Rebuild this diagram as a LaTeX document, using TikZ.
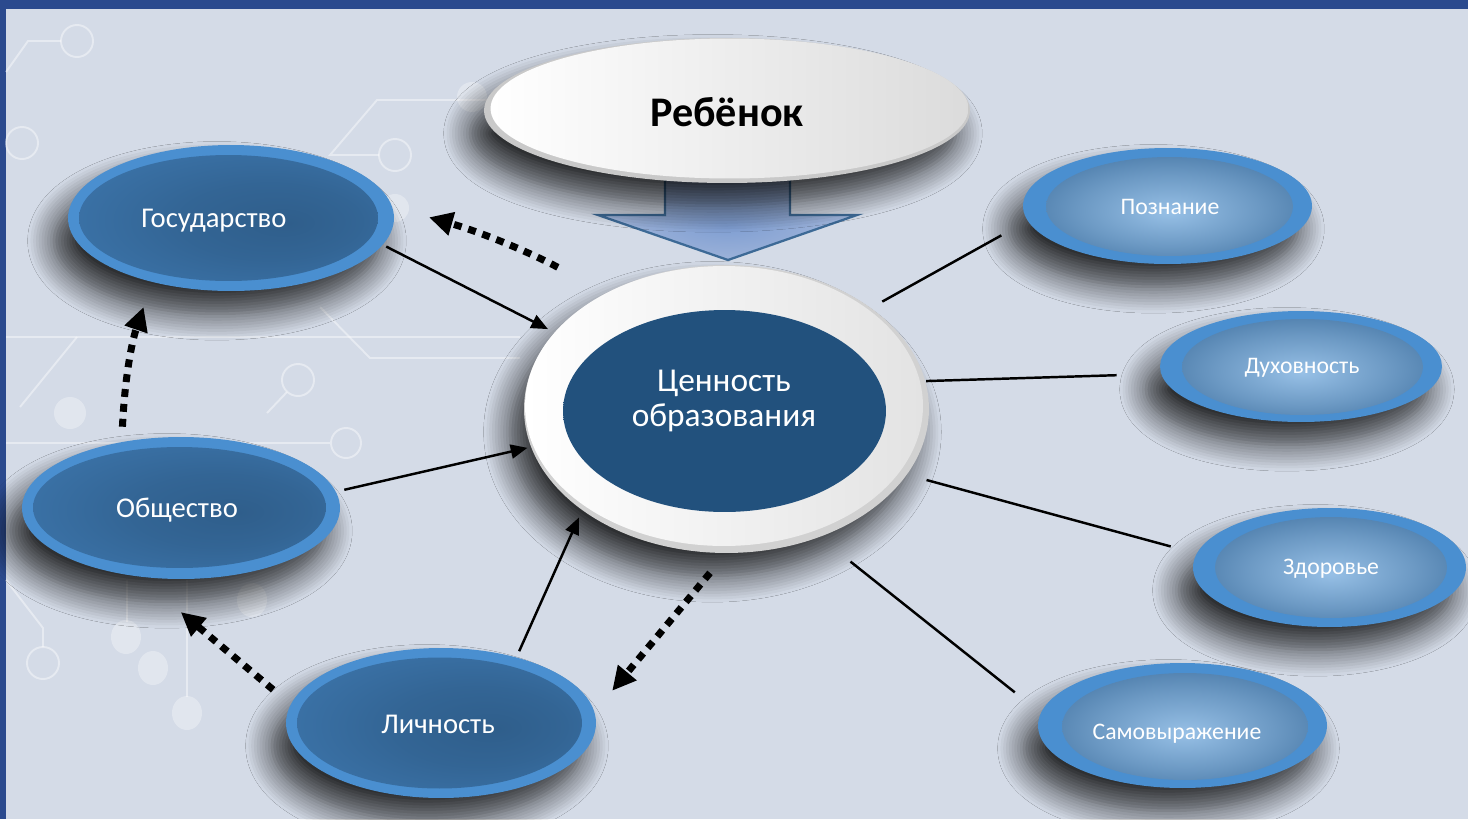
\documentclass[tikz,border=0pt]{standalone}
\usepackage{fontspec}
\setmainfont{Carlito}
\usetikzlibrary{shapes.geometric,arrows.meta,shadows.blur}
\definecolor{bgc}{HTML}{D4DBE7}
\definecolor{barc}{HTML}{2B4A8E}
\definecolor{rimblue}{HTML}{4A8FD0}
\definecolor{lin}{HTML}{2F5E8B}
\definecolor{lout}{HTML}{4A8CCB}
\definecolor{rin}{HTML}{97C0E6}
\definecolor{rout}{HTML}{386A9A}
\definecolor{cin}{HTML}{22517D}
\definecolor{cout}{HTML}{1A3E64}
\definecolor{arrc}{HTML}{3D6A96}
\definecolor{arrin}{HTML}{7F9ED2}
\definecolor{arrout}{HTML}{C3CDE2}
\pgfdeclareradialshading{leftrad}{\pgfpoint{10bp}{-2bp}}{color(0bp)=(lin); color(15bp)=(lin!85!lout); color(35bp)=(lin!50!lout); color(50bp)=(lout)}
\pgfdeclareradialshading{rightrad}{\pgfpoint{0bp}{-3bp}}{color(0bp)=(rin); color(18bp)=(rin!55!rout); color(38bp)=(rout); color(50bp)=(rout!85!rimblue)}
\pgfdeclareradialshading{cenrad}{\pgfpoint{-8bp}{4bp}}{color(0bp)=(cin); color(30bp)=(cin); color(50bp)=(cout)}
\pgfdeclareradialshading{arrrad}{\pgfpoint{0bp}{-6bp}}{color(0bp)=(arrin); color(30bp)=(arrin!40!arrout); color(50bp)=(arrout)}
\tikzset{
  shadowed/.style={blur shadow={shadow xshift=-8pt, shadow yshift=-13pt, shadow blur radius=15pt, shadow blur steps=10, shadow opacity=80}},
  ell/.style={ellipse, inner sep=0pt, outer sep=0pt},
  leftouter/.style={ell, fill=rimblue, shadowed},
  leftinner/.style={ell, shade, shading=leftrad},
  rightouter/.style={ell, fill=rimblue, shadowed},
  rightinner/.style={ell, shade, shading=rightrad},
  lbl/.style={text=white, font=\fontsize{16.3}{19}\selectfont, inner sep=0pt},
  slbl/.style={text=white, font=\fontsize{13.5}{16}\selectfont, inner sep=0pt},
  solidarr/.style={line width=1.4pt, black, -{Triangle[length=9.5pt,width=8pt]}},
  dotarr/.style={line width=4pt, black, dash pattern=on 4.5pt off 4pt, -{Triangle[length=13.5pt,width=13pt]}},
  plainline/.style={line width=1.4pt, black},
  deco/.style={draw=white, draw opacity=0.42, line width=1.1pt},
  decofill/.style={fill=white, fill opacity=0.32},
}
\begin{document}
\begin{tikzpicture}[x=0.02cm, y=-0.02cm]
\useasboundingbox (0,0) rectangle (1468,819);
% background
\fill[bgc] (0,0) rectangle (1468,819);
\fill[barc] (0,0) rectangle (1468,9);
\fill[barc] (0,0) rectangle (6,819);
% faint circuit decoration
\draw[deco] (6,72) -- (28,41) -- (61,41);
\draw[deco] (77,41) circle[radius=16];
\draw[deco] (22,143) circle[radius=16];
\draw[deco] (540,100) -- (377,100) -- (330,155) -- (379,155);
\draw[deco] (395,155) circle[radius=16];
\fill[decofill] (395,208) circle[radius=14];
\fill[decofill] (472,97) circle[radius=15];
\draw[deco] (6,337) -- (520,337);
\draw[deco] (320,307) -- (370,358) -- (520,358);
\draw[deco] (20,407) -- (77,337);
\draw[deco] (267,413) -- (287,392);
\draw[deco] (298,380) circle[radius=16];
\fill[decofill] (70,413) circle[radius=16];
\draw[deco] (6,443) -- (330,443);
\draw[deco] (346,443) circle[radius=15];
\draw[deco] (6,580) -- (43,628) -- (43,647);
\draw[deco] (43,663) circle[radius=16];
\draw[deco] (127,580) -- (127,622);
\draw[deco] (187,580) -- (187,697);
\fill[decofill] (126,637) ellipse[x radius=15, y radius=17];
\fill[decofill] (153,668) ellipse[x radius=15, y radius=17];
\fill[decofill] (187,713) ellipse[x radius=15, y radius=17];
\fill[decofill] (252,600) ellipse[x radius=15, y radius=17];
% block arrow from the child
\fill[shading=arrrad] (665,170) -- (665,215) -- (598,215) -- (728,260) -- (857,215) -- (790,215) -- (790,170) -- cycle;
\draw[arrc, line width=1.3pt, line join=miter] (665,170) -- (665,215) -- (598,215) -- (728,260) -- (857,215) -- (790,215) -- (790,170);
% child
\node[ell, fill=black!21, shadowed, minimum width={486*0.56906pt}, minimum height={145*0.56906pt}] (reb) at (727,110.5) {};
\node[ell, shade, left color=white, right color=black!14, minimum width={478*0.56906pt}, minimum height={140*0.56906pt}] (rebw) at (729.5,108.5) {};
\node[font=\bfseries\fontsize{24}{28}\selectfont, text=black, inner sep=0pt] (rebt) at (727,112) {Ребёнок};
% centre
\node[ell, fill=black!18, shadowed, minimum width={405*0.56906pt}, minimum height={288*0.56906pt}] (cen) at (726.5,409) {};
\node[ell, shade, left color=white, right color=black!11, minimum width={398*0.56906pt}, minimum height={280*0.56906pt}] (cenw) at (724,406) {};
\node[ell, shade, shading=cenrad, minimum width={323*0.56906pt}, minimum height={202*0.56906pt}] (cenin) at (724.5,411) {};
\node[text=white, font=\fontsize{19}{19.5}\selectfont, align=center, inner sep=0pt] (cent) at (724,401) {Ценность\\образования};
% left bubbles
\node[leftouter, minimum width={326*0.56906pt}, minimum height={146*0.56906pt}] (gos) at (231,218) {};
\node[leftinner, minimum width={299*0.56906pt}, minimum height={126*0.56906pt}] (gosin) at (228.5,218) {};
\node[lbl] (gost) at (214,221) {Государство};
\node[leftouter, minimum width={318*0.56906pt}, minimum height={142*0.56906pt}] (obs) at (181,508) {};
\node[leftinner, minimum width={293*0.56906pt}, minimum height={121*0.56906pt}] (obsin) at (179.5,507.5) {};
\node[lbl] (obst) at (177,510) {Общество};
\node[leftouter, minimum width={310*0.56906pt}, minimum height={150*0.56906pt}] (lic) at (441,723) {};
\node[leftinner, minimum width={285*0.56906pt}, minimum height={131*0.56906pt}] (licin) at (439.5,723) {};
\node[lbl] (lict) at (438,724) {Личность};
% right bubbles
\node[rightouter, minimum width={289*0.56906pt}, minimum height={116*0.56906pt}] (poz) at (1167.5,206) {};
\node[rightinner, minimum width={247*0.56906pt}, minimum height={99*0.56906pt}] (pozin) at (1169.5,206.5) {};
\node[slbl] (pozt) at (1170,207) {Познание};
\node[rightouter, minimum width={282*0.56906pt}, minimum height={111*0.56906pt}] (duh) at (1301,366.5) {};
\node[rightinner, minimum width={241*0.56906pt}, minimum height={96*0.56906pt}] (duhin) at (1302.5,367) {};
\node[slbl] (duht) at (1302,368) {Духовность};
\node[rightouter, minimum width={273*0.56906pt}, minimum height={119*0.56906pt}] (zdo) at (1329.5,567.5) {};
\node[rightinner, minimum width={232*0.56906pt}, minimum height={101*0.56906pt}] (zdoin) at (1331,567.5) {};
\node[slbl] (zdot) at (1331,569) {Здоровье};
\node[rightouter, minimum width={289*0.56906pt}, minimum height={125*0.56906pt}] (sam) at (1182.5,725.5) {};
\node[rightinner, minimum width={246*0.56906pt}, minimum height={107*0.56906pt}] (samin) at (1185,726.5) {};
\node[slbl] (samt) at (1177,734) {Самовыражение};
% solid arrows into the centre
\draw[solidarr, shorten <=2.3pt, shorten >=4.4pt] (gos.-10.6) -- (cen.156.4);
\draw[solidarr, shorten <=5pt, shorten >=2.2pt] (obs.6.3) -- (cen.-169.2);
\draw[solidarr, shorten <=3.9pt, shorten >=4.7pt] (lic.41.1) -- (cen.-145.3);
% dotted arrows
\draw[dotarr, shorten <=31.3pt, shorten >=21.9pt] (cen.136.9) to[bend right=6] (gos.4.6);
\draw[dotarr, shorten <=8.8pt, shorten >=15.1pt] (obs.132.3) to[bend left=8] (gos.-141);
\draw[dotarr, shorten <=13.1pt, shorten >=31.6pt] (lic.173) -- (obs.-122.5);
\draw[dotarr, shorten <=14.7pt, shorten >=15.9pt] (cen.-90.8) -- (lic.4.3);
% plain lines to the right bubbles
\draw[plainline, shorten <=7.5pt, shorten >=17.2pt] (cen.35.9) -- (poz.-174.1);
\draw[plainline, shorten <=0.6pt, shorten >=25.4pt] (cen.8.3) -- (duh.-177.7);
\draw[plainline, shorten <=11.7pt, shorten >=15.4pt] (cen.-20.75) -- (zdo.174.4);
\draw[plainline, shorten <=22.6pt, shorten >=19pt] (cen.-54.1) -- (sam.175.9);
\end{tikzpicture}
\end{document}
